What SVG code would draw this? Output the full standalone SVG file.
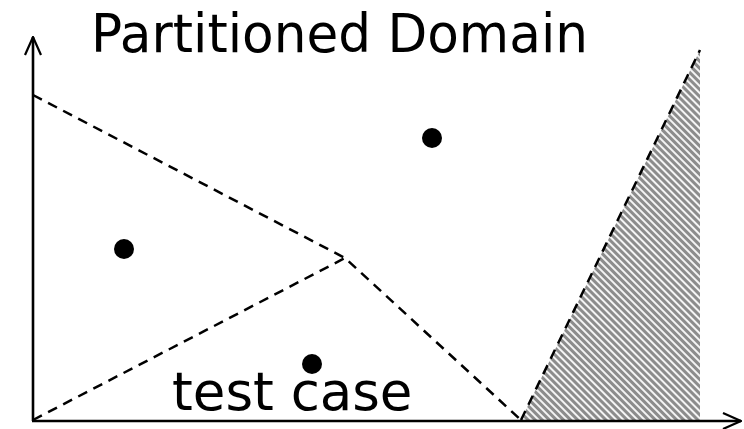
<svg xmlns="http://www.w3.org/2000/svg" width="744" height="429" viewBox="0 0 744 429">
  <defs>
    <pattern id="hatch" patternUnits="userSpaceOnUse" width="5" height="5" patternTransform="rotate(-45)">
      <rect width="5" height="5" fill="#f4f4f4"/>
      <rect x="0" y="0" width="3" height="5" fill="#8c8c8c"/>
    </pattern>
    <marker id="open" viewBox="0 0 20 20" refX="19" refY="10" markerWidth="20" markerHeight="20" markerUnits="userSpaceOnUse" orient="auto">
      <path d="M1,2 L19,10 L1,18" fill="none" stroke="#000" stroke-width="2.2"/>
    </marker>
  </defs>
  <style>
    .axis { stroke: #000; stroke-width: 2.6; fill: none; marker-end: url(#open); }
    .bound { stroke: #000; stroke-width: 2.5; fill: none; stroke-dasharray: 10 7; }
    .pt { fill: #000; }
    .label { font-family: "DejaVu Sans", Verdana, sans-serif; fill: #000; }
  </style>

  <rect width="744" height="429" fill="#fff"/>

  <!-- excluded region -->
  <g id="region">
    <polygon points="521,420 700,50 700,420" fill="url(#hatch)"/>
  </g>

  <!-- axes and partition boundaries -->
  <g id="connectors">
    <line class="axis" x1="33" y1="421" x2="33" y2="37"/>
    <line class="axis" x1="32" y1="421" x2="741" y2="421"/>
    <polyline class="bound" points="33,95 345,258 521,420"/>
    <line class="bound" x1="33" y1="420" x2="345" y2="258"/>
    <line class="bound" x1="521" y1="420" x2="700" y2="50"/>
  </g>

  <g id="point-a"><circle class="pt" cx="124" cy="249" r="10"/></g>
  <g id="point-b"><circle class="pt" cx="432" cy="138" r="10"/></g>
  <g id="point-c"><circle class="pt" cx="312" cy="364" r="10"/></g>

  <g id="title">
    <text class="label" x="91" y="52" font-size="54" textLength="497" lengthAdjust="spacingAndGlyphs">Partitioned Domain</text>
  </g>
  <g id="test-case-label">
    <text class="label" x="172" y="410" font-size="53">test case</text>
  </g>
</svg>
